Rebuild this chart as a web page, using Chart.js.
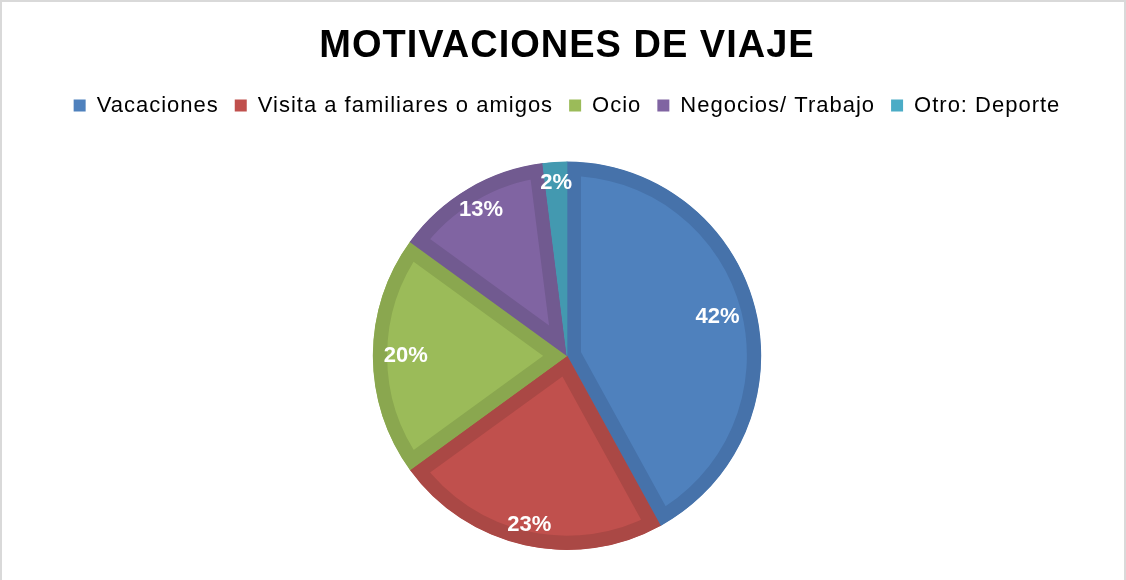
<!DOCTYPE html>
<html>
<head>
<meta charset="utf-8">
<script src="https://cdn.jsdelivr.net/npm/chart.js@4"></script>
<style>
  html, body { margin: 0; padding: 0; background: #fff; }
  #wrap { position: relative; width: 1126px; height: 580px; }
  #graph { position: absolute; left: 0; top: 0; }
  #marco { position: absolute; left: 0; top: 0; width: 1126px; height: 580px; box-sizing: border-box;
           border: 2px solid #d9d9d9; border-bottom: none; pointer-events: none; }
</style>
</head>
<body>
<div id="wrap">
  <canvas id="graph" width="1126" height="580"></canvas>
  <div id="marco"></div>
</div>
<script>
const categorias = ["Vacaciones", "Visita a familiares o amigos", "Ocio", "Negocios/ Trabajo", "Otro: Deporte"];
const porcentajes = [42, 23, 20, 13, 2];
const colores = ["#4f81bd", "#c0504d", "#9bbb59", "#8064a2", "#4bacc6"];
const bordes = ["#4672aa", "#aa4845", "#8aa74f", "#715a90", "#4399b0"];

const fuente = "'Liberation Sans', Arial, sans-serif";

// el texto del original esta un poco mas ancho, se imita con letterSpacing
const espaciado = {
  id: "espaciado",
  beforeUpdate(chart) { chart.ctx.letterSpacing = "1px"; },
  beforeDraw(chart) { chart.ctx.letterSpacing = "1px"; },
  beforeInit(chart) {
    const fitOriginal = chart.legend.fit;
    chart.legend.fit = function () {
      fitOriginal.bind(chart.legend)();
      this.height += 35; // hueco entre leyenda y torta
    };
  }
};

// etiquetas blancas dentro de cada porcion (como en Excel)
const etiquetas = {
  id: "etiquetas",
  afterDatasetsDraw(chart) {
    const ctx = chart.ctx;
    const meta = chart.getDatasetMeta(0);
    const factores = [0.80, 0.89, 0.83, 0.87, 0.89];
    ctx.save();
    ctx.letterSpacing = "0px";
    ctx.fillStyle = "#fff";
    ctx.font = "bold 22px " + fuente;
    ctx.textAlign = "center";
    ctx.textBaseline = "middle";
    meta.data.forEach((arc, i) => {
      const mid = (arc.startAngle + arc.endAngle) / 2;
      const r = arc.outerRadius * factores[i];
      ctx.fillText(porcentajes[i] + "%", arc.x + Math.cos(mid) * r, arc.y + Math.sin(mid) * r);
    });
    ctx.restore();
  }
};

const ctx = document.getElementById("graph").getContext("2d");
const grafico = new Chart(ctx, {
  type: "pie",
  data: {
    labels: categorias,
    datasets: [{
      data: porcentajes,
      backgroundColor: colores,
      borderColor: bordes,
      borderWidth: 14,
      borderAlign: "inner"
    }]
  },
  options: {
    responsive: false,
    animation: false,
    devicePixelRatio: 1,
    layout: { padding: { left: 8, top: 24, bottom: 30 } },
    plugins: {
      title: {
        display: true,
        text: "MOTIVACIONES DE VIAJE",
        color: "#000",
        font: { size: 38, weight: "bold", family: fuente },
        padding: { top: 0, bottom: 9 }
      },
      legend: {
        position: "top",
        labels: {
          color: "#000",
          boxWidth: 12,
          boxHeight: 12,
          padding: 16,
          font: { size: 22, family: fuente },
          generateLabels(chart) {
            const items = Chart.overrides.pie.plugins.legend.labels.generateLabels(chart);
            items.forEach(it => { it.lineWidth = 0; it.strokeStyle = "rgba(0,0,0,0)"; });
            return items;
          }
        }
      },
      tooltip: { enabled: false }
    }
  },
  plugins: [espaciado, etiquetas]
});
</script>
</body>
</html>
